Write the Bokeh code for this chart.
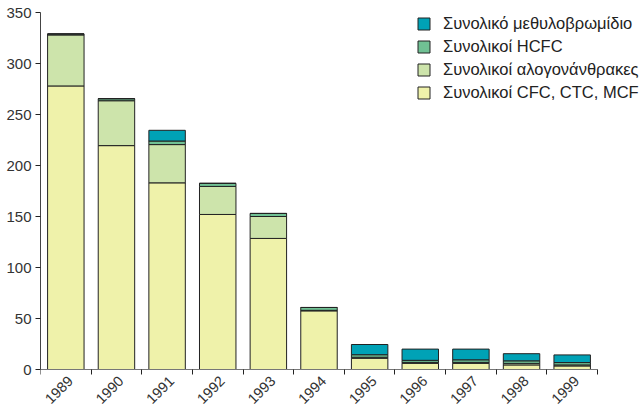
from bokeh.plotting import figure
from bokeh.models import ColumnDataSource, FixedTicker, Legend, LegendItem, Range1d
from bokeh.embed import file_html
from bokeh.resources import INLINE

years = ["1989", "1990", "1991", "1992", "1993", "1994", "1995", "1996", "1997", "1998", "1999"]
cfc_ctc_mcf = [278, 219.5, 183, 152, 128.5, 57.5, 11, 6, 6, 4.5, 3.5]
halons = [50, 44, 37.5, 27.5, 21.5, 0.5, 1, 1, 1, 1.5, 1]
hcfc = [1, 2, 3.5, 3, 3, 2.8, 2.5, 2, 2.5, 2.5, 2.3]
methyl_bromide = [0, 0, 10.5, 0, 0, 0, 10, 11, 10.5, 7, 7.5]
y_ticks = [0, 50, 100, 150, 200, 250, 300, 350]

series = ["cfc", "halons", "hcfc", "mb"]
labels = ["Συνολικοί CFC, CTC, MCF", "Συνολικοί αλογονάνθρακες", "Συνολικοί HCFC", "Συνολικό μεθυλοβρωμίδιο"]
colors = ["#eff2aa", "#cde4ab", "#70c194", "#00a2b6"]

n = len(years)
xpos = [i + 0.5 for i in range(n)]
LABEL_DX = 0.09  # small shift of rotated year labels
label_pos = [x + LABEL_DX for x in xpos]
src = ColumnDataSource(dict(x=xpos, cfc=cfc_ctc_mcf, halons=halons, hcfc=hcfc, mb=methyl_bromide))

FONT = "Liberation Sans"
W, H = 642, 406
LEFT, TOP = 40, 12
PLOT_W_PX, PLOT_H_PX = 557, 357   # pixel span of the category axis / value axis
ymax = y_ticks[-1]
frame_w = W - LEFT
frame_h = H - TOP
x_end = n * frame_w / PLOT_W_PX
y_start = -(frame_h - PLOT_H_PX) * ymax / PLOT_H_PX

p = figure(width=W, height=H, output_backend="svg", toolbar_location=None,
           x_range=Range1d(0, x_end), y_range=Range1d(y_start, ymax),
           min_border_left=LEFT, min_border_right=0, min_border_top=TOP, min_border_bottom=0)
p.outline_line_color = None
p.grid.visible = False

rs = p.vbar_stack(series, x="x", width=0.72, source=src, fill_color=colors,
                  line_color="#222222", line_width=1)

items = [LegendItem(label=labels[i], renderers=[rs[i]]) for i in range(3, -1, -1)]
leg = Legend(items=items, location=(376, frame_h - 90), orientation="vertical",
             glyph_width=15, glyph_height=15, label_height=15, spacing=4,
             padding=0, margin=0, label_standoff=12,
             label_text_font=FONT, label_text_font_size="16.5px", label_text_color="#222222",
             border_line_color=None, background_fill_alpha=0)
p.add_layout(leg, "center")

xa = p.xaxis[0]
xa.fixed_location = 0
xa.bounds = (0, n)
xa.ticker = FixedTicker(ticks=label_pos, minor_ticks=list(range(n + 1)))
xa.major_label_overrides = {x: y for x, y in zip(label_pos, years)}
xa.major_tick_out = 0
xa.major_tick_in = 0
xa.minor_tick_out = 5
xa.minor_tick_in = 0
xa.minor_tick_line_color = "#222222"
xa.axis_line_color = "#777777"
xa.major_label_orientation = 0.785398
xa.major_label_standoff = 4
xa.major_label_text_font = FONT
xa.major_label_text_font_size = "14.5px"
xa.major_label_text_color = "#333333"

ya = p.yaxis[0]
ya.bounds = (0, ymax)
ya.ticker = FixedTicker(ticks=y_ticks)
ya.major_tick_out = 5
ya.major_tick_in = 0
ya.minor_tick_line_color = None
ya.axis_line_color = "#444444"
ya.major_tick_line_color = "#222222"
ya.major_label_standoff = 4
ya.major_label_text_font = FONT
ya.major_label_text_font_size = "15px"
ya.major_label_text_color = "#333333"

open("out.html", "w").write(file_html(p, INLINE))
